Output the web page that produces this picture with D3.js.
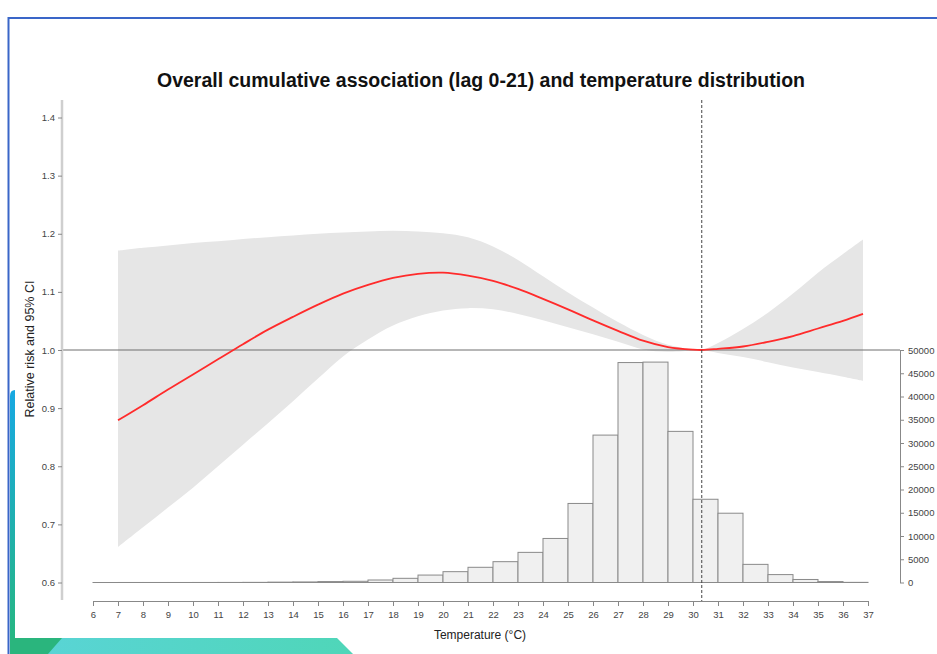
<!DOCTYPE html>
<html><head><meta charset="utf-8">
<script src="https://cdn.jsdelivr.net/npm/d3@7"></script>
<style>
body{margin:0;background:#fff}
svg{display:block;font-family:"Liberation Sans",Arial,Helvetica,sans-serif}
</style>
</head><body><svg id="c" width="937" height="654"></svg>
<script>
// ---------- data ----------
const temps  = [7,8,9,10,11,12,13,14,15,16,17,18,19,20,21,22,23,24,25,26,27,28,29,30,30.35,31,32,33,34,35,36,36.8];
const rrFit  = [0.879,0.905,0.932,0.958,0.984,1.010,1.035,1.057,1.078,1.097,1.112,1.124,1.131,1.133,1.128,1.119,1.105,1.088,1.070,1.051,1.033,1.016,1.005,1.0005,1.000,1.002,1.006,1.014,1.024,1.037,1.050,1.062];
const rrHigh = [1.171,1.176,1.180,1.184,1.187,1.191,1.194,1.197,1.200,1.202,1.204,1.205,1.204,1.201,1.194,1.178,1.155,1.127,1.099,1.073,1.048,1.026,1.009,1.001,1.000,1.012,1.036,1.064,1.097,1.133,1.165,1.190];
const rrLow  = [0.661,0.695,0.729,0.763,0.800,0.837,0.874,0.912,0.951,0.989,1.018,1.042,1.058,1.068,1.072,1.070,1.062,1.051,1.039,1.027,1.014,1.001,0.997,0.999,1.000,0.995,0.988,0.979,0.970,0.962,0.954,0.947];
const binStarts = [6,7,8,9,10,11,12,13,14,15,16,17,18,19,20,21,22,23,24,25,26,27,28,29,30,31,32,33,34,35,36];
const binCounts = [0,5,5,5,10,15,30,80,120,200,260,540,900,1600,2330,3270,4480,6480,9470,17000,31700,47300,47400,32500,17900,14900,3900,1700,650,200,30];
const rrTicks = [0.6,0.7,0.8,0.9,1.0,1.1,1.2,1.3,1.4];
const countTicks = [0,5000,10000,15000,20000,25000,30000,35000,40000,45000,50000];
const tempTicks = [6,7,8,9,10,11,12,13,14,15,16,17,18,19,20,21,22,23,24,25,26,27,28,29,30,31,32,33,34,35,36,37];
const refTemp = 30.35;
const titleText = "Overall cumulative association (lag 0-21) and temperature distribution";
const yLabel = "Relative risk and 95% CI";
const xLabel = "Temperature (\u00B0C)";

// ---------- drawing ----------
const svg = d3.select("#c");
const defs = svg.append("defs");

// decorative frame
const g1 = defs.append("linearGradient").attr("id","gL").attr("x1",0).attr("y1",0).attr("x2",0).attr("y2",1);
g1.append("stop").attr("offset","0%").attr("stop-color","#17a8e2");
g1.append("stop").attr("offset","100%").attr("stop-color","#27b77c");
const g2 = defs.append("linearGradient").attr("id","gB").attr("x1",0).attr("y1",0).attr("x2",1).attr("y2",0);
g2.append("stop").attr("offset","0%").attr("stop-color","#5ad4d8");
g2.append("stop").attr("offset","100%").attr("stop-color","#4fd6b8");
svg.append("path").attr("d","M10,396 Q10,390 15,390 L15,654 L10,654 Z").attr("fill","url(#gL)");
svg.append("path").attr("d","M10,638 L337,638 L353,654 L10,654 Z").attr("fill","url(#gB)");
svg.append("path").attr("d","M10,638 L62,638 L48,654 L10,654 Z").attr("fill","#2ab57d");
svg.append("line").attr("x1",8.5).attr("x2",8.5).attr("y1",17).attr("y2",654).attr("stroke","#3a66c8").attr("stroke-width",2);
svg.append("line").attr("x1",8).attr("x2",937).attr("y1",18).attr("y2",18).attr("stroke","#3a66c8").attr("stroke-width",2);

const x = d3.scaleLinear().domain([6,37]).range([93,868]);
const yRR = d3.scaleLinear().domain([0.6,1.4]).range([582.5,117.5]);
const yH = d3.scaleLinear().domain([0,50000]).range([582.5,350]);

const pts = temps.map((t,i)=>({t, f:rrFit[i], lo:rrLow[i], hi:rrHigh[i]}));
const curve = d3.curveCatmullRom.alpha(0.5);

// CI band
svg.append("path").datum(pts)
  .attr("d", d3.area().x(d=>x(d.t)).y0(d=>yRR(d.lo)).y1(d=>yRR(d.hi)).curve(curve))
  .attr("fill","#e6e6e6");

// reference line RR = 1
svg.append("line").attr("x1",62).attr("x2",900).attr("y1",yRR(1)).attr("y2",yRR(1))
  .attr("stroke","#6f6f6f").attr("stroke-width",1);

// histogram
svg.append("g").selectAll("rect").data(binStarts).join("rect")
  .attr("x", (s)=>x(s))
  .attr("width", (s)=>x(s+1)-x(s))
  .attr("y", (s,i)=>yH(binCounts[i]))
  .attr("height", (s,i)=>Math.max(0.01, yH(0)-yH(binCounts[i])))
  .attr("fill","#f0f0f0").attr("stroke","#8a8a8a").attr("stroke-width",1);
svg.append("line").attr("x1",x(6)).attr("x2",x(37)).attr("y1",yH(0)).attr("y2",yH(0))
  .attr("stroke","#8a8a8a").attr("stroke-width",1);

// fitted curve
svg.append("path").datum(pts)
  .attr("d", d3.line().x(d=>x(d.t)).y(d=>yRR(d.f)).curve(curve))
  .attr("fill","none").attr("stroke","#ff2b2b").attr("stroke-width",1.8);

// reference temperature
svg.append("line").attr("x1",x(refTemp)).attr("x2",x(refTemp)).attr("y1",100).attr("y2",601)
  .attr("stroke","#444").attr("stroke-width",1).attr("stroke-dasharray","3,2");

// left axis
svg.append("line").attr("x1",62).attr("x2",62).attr("y1",100).attr("y2",600)
  .attr("stroke","#cfcfcf").attr("stroke-width",2.5);
const la = svg.append("g").attr("transform","translate(62,0)")
  .call(d3.axisLeft(yRR).tickValues(rrTicks).tickFormat(d3.format(".1f")).tickSize(4).tickPadding(3));
la.select(".domain").remove();
la.selectAll(".tick line").attr("stroke","#888");
la.selectAll(".tick text").attr("fill","#444").style("font-size","9.5px").style("font-family","'Liberation Sans',Arial,sans-serif");

// bottom axis
const ba = svg.append("g").attr("transform","translate(0,601)")
  .call(d3.axisBottom(x).tickValues(tempTicks).tickFormat(d3.format("d")).tickSize(5).tickSizeOuter(0).tickPadding(5));
ba.select(".domain").attr("stroke","#888");
ba.selectAll(".tick line").attr("stroke","#888");
ba.selectAll(".tick text").attr("fill","#444").style("font-size","9.5px").style("font-family","'Liberation Sans',Arial,sans-serif");

// right axis
const ra = svg.append("g").attr("transform","translate(900,0)")
  .call(d3.axisRight(yH).tickValues(countTicks).tickFormat(d3.format("d")).tickSize(4).tickSizeOuter(0).tickPadding(4));
ra.select(".domain").attr("stroke","#888");
ra.selectAll(".tick line").attr("stroke","#888");
ra.selectAll(".tick text").attr("fill","#444").style("font-size","9.5px").style("font-family","'Liberation Sans',Arial,sans-serif");

// texts
svg.append("text").attr("x",481).attr("y",87).attr("text-anchor","middle")
  .style("font-size","19.5px").style("font-weight","bold").attr("fill","#111").text(titleText);
svg.append("text").attr("transform","translate(34,349) rotate(-90)").attr("text-anchor","middle")
  .style("font-size","12.5px").attr("fill","#222").text(yLabel);
svg.append("text").attr("x",480).attr("y",639).attr("text-anchor","middle")
  .style("font-size","12px").attr("fill","#222").text(xLabel);
</script>
</body></html>
